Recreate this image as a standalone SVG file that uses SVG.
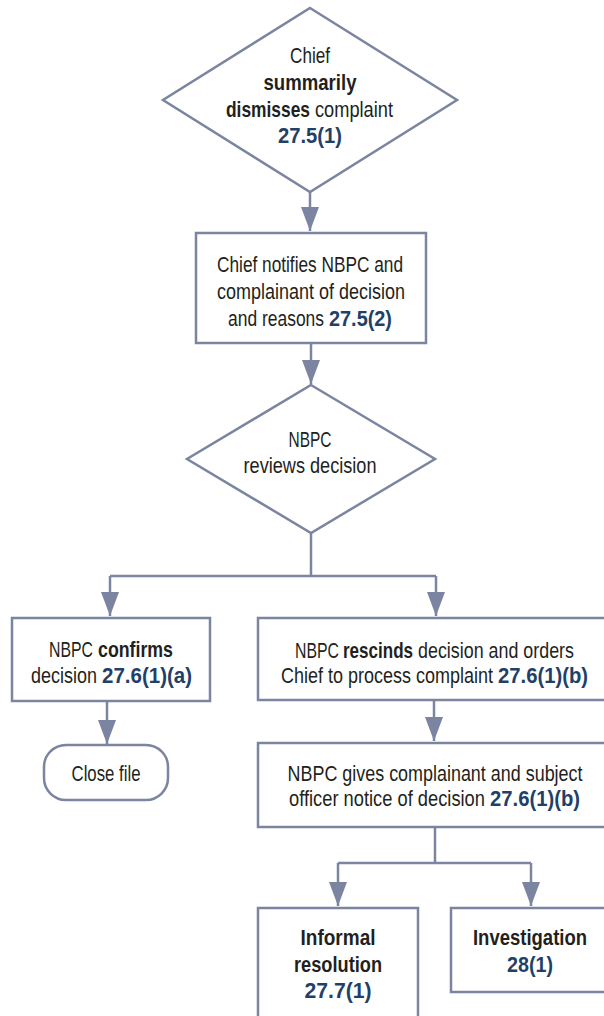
<svg xmlns="http://www.w3.org/2000/svg" width="604" height="1016" viewBox="0 0 604 1016">
<style>
.shape{fill:#ffffff;stroke:#7b84a1;stroke-width:2.5}
.conn{fill:none;stroke:#7b84a1;stroke-width:2.5}
text{font-family:"Liberation Sans",Arial,sans-serif;font-size:22.5px;fill:#231f20;text-anchor:middle}
.s{text-anchor:start}
.b{font-weight:bold}
.ref{font-weight:bold;fill:#1f4168}
</style>
<defs>
<marker id="ah" markerUnits="userSpaceOnUse" markerWidth="24" markerHeight="18" refX="24" refY="9" orient="auto">
<path d="M0,0 L24,9 L0,18 z" fill="#7b84a1"/>
</marker>
</defs>
<rect width="604" height="1016" fill="#ffffff"/>
<g id="connectors">
<path class="conn" d="M310,192 V231" marker-end="url(#ah)"/>
<path class="conn" d="M311,343 V384" marker-end="url(#ah)"/>
<path class="conn" d="M311,533 V576"/>
<path class="conn" d="M110,576 H436"/>
<path class="conn" d="M110,576 V616" marker-end="url(#ah)"/>
<path class="conn" d="M436,576 V616" marker-end="url(#ah)"/>
<path class="conn" d="M107,701 V744" marker-end="url(#ah)"/>
<path class="conn" d="M434,700 V741" marker-end="url(#ah)"/>
<path class="conn" d="M435,827 V863"/>
<path class="conn" d="M338,863 H531"/>
<path class="conn" d="M338,863 V906" marker-end="url(#ah)"/>
<path class="conn" d="M531,863 V906" marker-end="url(#ah)"/>
</g>
<g id="n1">
<polygon class="shape" points="310,8 457,100 310,192 163,100"/>
<text transform="translate(310 63) scale(0.77 1)" textLength="51.9" lengthAdjust="spacingAndGlyphs">Chief</text>
<text transform="translate(310 90) scale(0.77 1)" class="b" textLength="120.8" lengthAdjust="spacingAndGlyphs">summarily</text>
<text transform="translate(226 117) scale(0.77 1)" class="s b" textLength="109.1" lengthAdjust="spacingAndGlyphs">dismisses</text>
<text transform="translate(315 117) scale(0.77 1)" class="s" textLength="101.3" lengthAdjust="spacingAndGlyphs">complaint</text>
<text transform="translate(310 143) scale(0.77 1)" class="ref" textLength="83.1" lengthAdjust="spacingAndGlyphs">27.5(1)</text>
</g>
<g id="n2">
<rect class="shape" x="196" y="233" width="230" height="110"/>
<text transform="translate(310 272) scale(0.77 1)" textLength="241.6" lengthAdjust="spacingAndGlyphs">Chief notifies NBPC and</text>
<text transform="translate(311 299) scale(0.77 1)" textLength="244.2" lengthAdjust="spacingAndGlyphs">complainant of decision</text>
<text transform="translate(228 326) scale(0.77 1)" class="s" textLength="124.7" lengthAdjust="spacingAndGlyphs">and reasons</text>
<text transform="translate(329 326) scale(0.77 1)" class="s ref" textLength="81.8" lengthAdjust="spacingAndGlyphs">27.5(2)</text>
</g>
<g id="n3">
<polygon class="shape" points="311,385 435,459 311,533 187,459"/>
<text transform="translate(310 447) scale(0.77 1)" textLength="55.8" lengthAdjust="spacingAndGlyphs">NBPC</text>
<text transform="translate(310 473) scale(0.77 1)" textLength="172.7" lengthAdjust="spacingAndGlyphs">reviews decision</text>
</g>
<g id="n4">
<rect class="shape" x="12" y="618" width="198" height="83"/>
<text transform="translate(49 657) scale(0.77 1)" class="s" textLength="57.1" lengthAdjust="spacingAndGlyphs">NBPC</text>
<text transform="translate(98 657) scale(0.77 1)" class="s b" textLength="97.4" lengthAdjust="spacingAndGlyphs">confirms</text>
<text transform="translate(31 683) scale(0.77 1)" class="s" textLength="85.7" lengthAdjust="spacingAndGlyphs">decision</text>
<text transform="translate(102 683) scale(0.77 1)" class="s ref" textLength="116.9" lengthAdjust="spacingAndGlyphs">27.6(1)(a)</text>
</g>
<g id="n5">
<rect class="shape" x="44" y="745" width="124" height="55" rx="22" ry="22"/>
<text transform="translate(106 781) scale(0.77 1)" textLength="89.6" lengthAdjust="spacingAndGlyphs">Close file</text>
</g>
<g id="n6">
<rect class="shape" x="258" y="618" width="352" height="82"/>
<text transform="translate(295 657.5) scale(0.77 1)" class="s" textLength="57.1" lengthAdjust="spacingAndGlyphs">NBPC</text>
<text transform="translate(343 657.5) scale(0.77 1)" class="s b" textLength="90.9" lengthAdjust="spacingAndGlyphs">rescinds</text>
<text transform="translate(418 657.5) scale(0.77 1)" class="s" textLength="202.6" lengthAdjust="spacingAndGlyphs">decision and orders</text>
<text transform="translate(281 683) scale(0.77 1)" class="s" textLength="275.3" lengthAdjust="spacingAndGlyphs">Chief to process complaint</text>
<text transform="translate(498 683) scale(0.77 1)" class="s ref" textLength="116.9" lengthAdjust="spacingAndGlyphs">27.6(1)(b)</text>
</g>
<g id="n7">
<rect class="shape" x="258" y="743" width="352" height="84"/>
<text transform="translate(435 780.5) scale(0.77 1)" textLength="383.1" lengthAdjust="spacingAndGlyphs">NBPC gives complainant and subject</text>
<text transform="translate(289 806) scale(0.77 1)" class="s" textLength="254.5" lengthAdjust="spacingAndGlyphs">officer notice of decision</text>
<text transform="translate(490 806) scale(0.77 1)" class="s ref" textLength="116.9" lengthAdjust="spacingAndGlyphs">27.6(1)(b)</text>
</g>
<g id="n8">
<rect class="shape" x="258" y="908" width="160" height="120"/>
<text transform="translate(338 945) scale(0.77 1)" class="b" textLength="97.4" lengthAdjust="spacingAndGlyphs">Informal</text>
<text transform="translate(338 972) scale(0.77 1)" class="b" textLength="114.3" lengthAdjust="spacingAndGlyphs">resolution</text>
<text transform="translate(338 998) scale(0.77 1)" class="ref" textLength="87" lengthAdjust="spacingAndGlyphs">27.7(1)</text>
</g>
<g id="n9">
<rect class="shape" x="451" y="908" width="160" height="84"/>
<text transform="translate(530 945) scale(0.77 1)" class="b" textLength="148.1" lengthAdjust="spacingAndGlyphs">Investigation</text>
<text transform="translate(530 972) scale(0.77 1)" class="ref" textLength="59.7" lengthAdjust="spacingAndGlyphs">28(1)</text>
</g>
</svg>
